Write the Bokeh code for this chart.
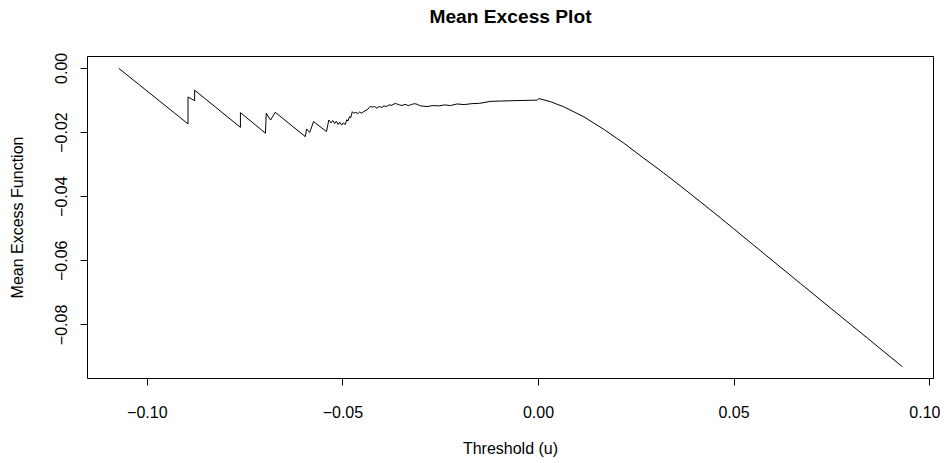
from bokeh.plotting import figure
from bokeh.models import Range1d, FixedTicker, CustomJSTickFormatter, LinearAxis
from bokeh.embed import file_html
from bokeh.resources import INLINE

threshold = [
    -0.1073, -0.0896, -0.0896, -0.0879, -0.0879, -0.0762, -0.0762, -0.0698,
    -0.0696, -0.0685, -0.0673, -0.0596, -0.0593, -0.0585, -0.0575, -0.0542,
    -0.0536, -0.0530, -0.0526, -0.0521, -0.0517, -0.0512, -0.0508, -0.0503,
    -0.0499, -0.0494, -0.0490, -0.0487, -0.0483, -0.0480, -0.0476, -0.0472,
    -0.0467, -0.0462, -0.0457, -0.0452, -0.0446, -0.0441, -0.0436, -0.0430,
    -0.0425, -0.0419, -0.0413, -0.0407, -0.0401, -0.0395, -0.0389, -0.0382,
    -0.0375, -0.0366, -0.0358, -0.0349, -0.0341, -0.0333, -0.0325, -0.0317,
    -0.0310, -0.0302, -0.0293, -0.0285, -0.0270, -0.0255, -0.0240, -0.0225,
    -0.0208, -0.0190, -0.0170, -0.0150, -0.0123, -0.0100, -0.0070, -0.0040,
    -0.0003, 0.0001, 0.0031, 0.0065, 0.0116, 0.0167, 0.0218, 0.0269,
    0.0320, 0.0380, 0.0414, 0.0465, 0.0499, 0.0670, 0.0841, 0.0930,
]
mean_excess = [
    0.0000, -0.0173, -0.0089, -0.0101, -0.0068, -0.0184, -0.0138, -0.0202,
    -0.0140, -0.0161, -0.0137, -0.0213, -0.0189, -0.0200, -0.0166, -0.0197,
    -0.0161, -0.0170, -0.0163, -0.0172, -0.0165, -0.0175, -0.0168, -0.0177,
    -0.0170, -0.0175, -0.0160, -0.0164, -0.0150, -0.0154, -0.0135, -0.0140,
    -0.0137, -0.0141, -0.0136, -0.0140, -0.0134, -0.0131, -0.0127, -0.0118,
    -0.0121, -0.0119, -0.0124, -0.0119, -0.0122, -0.0117, -0.0119, -0.0114,
    -0.0115, -0.0109, -0.0113, -0.0116, -0.0112, -0.0116, -0.0113, -0.0110,
    -0.0112, -0.0117, -0.0118, -0.0119, -0.0116, -0.0117, -0.0114, -0.0116,
    -0.0111, -0.0113, -0.0110, -0.0109, -0.0103, -0.0102, -0.0101, -0.0100,
    -0.0099, -0.0094, -0.0104, -0.0120, -0.0151, -0.0190, -0.0233, -0.0280,
    -0.0326, -0.0383, -0.0416, -0.0466, -0.0500, -0.0671, -0.0841, -0.0930,
]
x_ticks = [-0.10, -0.05, 0.00, 0.05, 0.10]
y_ticks = [0.00, -0.02, -0.04, -0.06, -0.08]
title_text = "Mean Excess Plot"
x_label = "Threshold (u)"
y_label = "Mean Excess Function"

FONT = "Liberation Sans"
X0, X1 = -0.1153, 0.1010
Y0, Y1 = -0.0967, 0.0037

p = figure(width=940, height=459, output_backend="svg", toolbar_location=None,
           x_range=Range1d(X0, X1), y_range=Range1d(Y0, Y1),
           min_border_left=87, min_border_right=7, min_border_top=56, min_border_bottom=80)

p.line(threshold, mean_excess, line_color="black", line_width=1)

xaxis = p.below[0]
yaxis = p.left[0]

# title drawn as the label of an empty axis above the frame
title_axis = LinearAxis(ticker=FixedTicker(ticks=[]), axis_line_color=None,
                        major_tick_line_color=None, minor_tick_line_color=None,
                        major_tick_out=0, major_tick_in=0,
                        major_label_text_font_size="0px",
                        axis_label=title_text, axis_label_text_font=FONT,
                        axis_label_text_font_size="19.2px",
                        axis_label_text_font_style="bold",
                        axis_label_text_color="black",
                        axis_label_standoff=30)
p.add_layout(title_axis, "above")

p.grid.visible = False
p.outline_line_color = "black"
p.outline_line_width = 1
p.background_fill_color = "white"
p.border_fill_color = "white"

fmt = CustomJSTickFormatter(code="return (tick < -1e-9 ? '\u2212' : '') + Math.abs(tick).toFixed(2);")

for ax, ticks in ((xaxis, x_ticks), (yaxis, y_ticks)):
    ax.ticker = FixedTicker(ticks=ticks)
    ax.formatter = fmt
    ax.axis_line_color = None
    ax.minor_tick_line_color = None
    ax.major_tick_in = 0
    ax.major_tick_out = 7
    ax.major_tick_line_color = "black"
    ax.major_label_text_font = FONT
    ax.major_label_text_font_size = "16px"
    ax.major_label_text_color = "black"
    ax.axis_label_text_font = FONT
    ax.axis_label_text_font_size = "16px"
    ax.axis_label_text_font_style = "normal"
    ax.axis_label_text_color = "black"

xaxis.axis_label = x_label
yaxis.axis_label = y_label
yaxis.major_label_orientation = "vertical"
xaxis.major_label_standoff = 20
xaxis.axis_label_standoff = 19
yaxis.major_label_standoff = 13
yaxis.axis_label_standoff = 27

open("out.html", "w").write(file_html(p, INLINE))
